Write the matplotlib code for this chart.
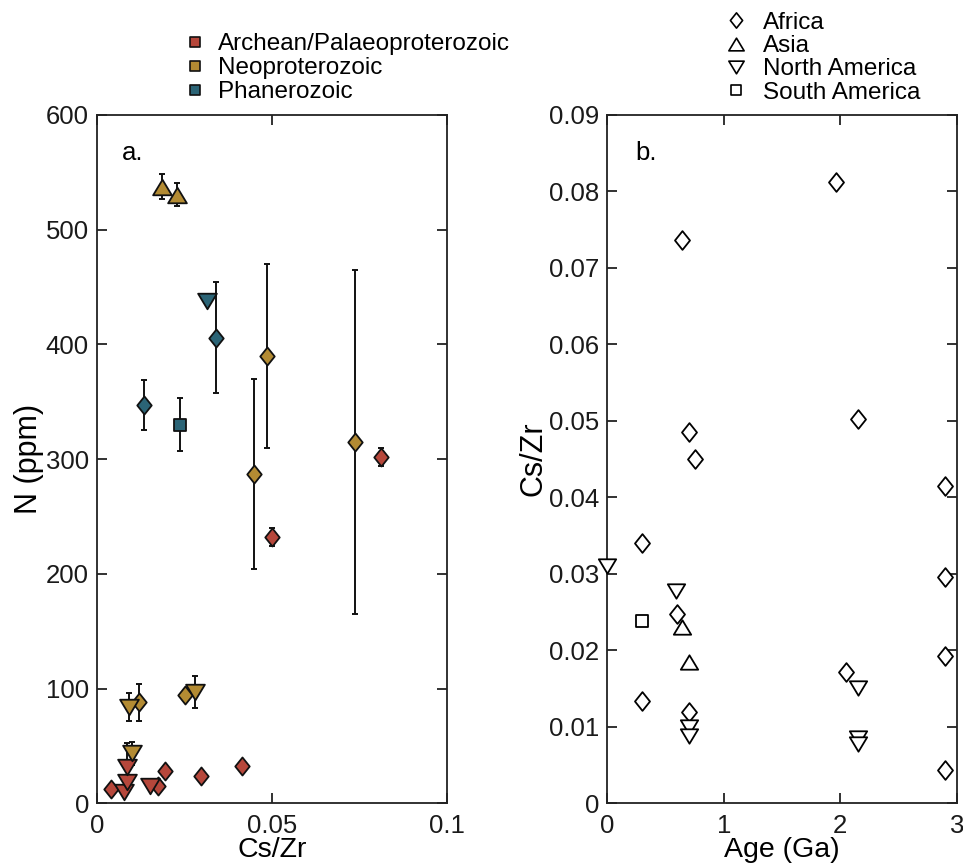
import numpy as np
import matplotlib
matplotlib.use('Agg')
import matplotlib.pyplot as plt
from matplotlib.path import Path
from matplotlib.lines import Line2D

plt.rcParams['font.family'] = ['Liberation Sans', 'DejaVu Sans']

# ---- panel a: N vs Cs/Zr, grouped by period ----
arch_cs = [0.0039, 0.0077, 0.0084, 0.0084, 0.0151, 0.0173, 0.0195, 0.0297, 0.0414, 0.0501, 0.0812]
arch_n = [12.5, 10, 18.8, 32, 15, 15, 28, 23.5, 32.5, 232, 302]
arch_err = [0, 0, 0, 21, 0, 0, 0, 0, 0, 8, 8]
arch_shape = ['dia', 'dn', 'dn', 'dn', 'dn', 'dia', 'dia', 'dia', 'dia', 'dia', 'dia']

neo_cs = [0.0186, 0.0229, 0.0487, 0.0449, 0.0738, 0.0091, 0.0120, 0.0250, 0.0280, 0.0099]
neo_n = [537.6, 530.3, 390, 287, 315, 84, 88, 94.7, 96.8, 43.6]
neo_err = [11, 10, 80, 83, 150, 12, 16, 0, 14, 10]
neo_shape = ['up', 'up', 'dia', 'dia', 'dia', 'dn', 'dia', 'dia', 'dn', 'dn']

phan_cs = [0.0313, 0.0341, 0.0133, 0.0237]
phan_n = [438, 406, 347, 330]
phan_err = [0, 48, 22, 23]
phan_shape = ['dn', 'dia', 'dia', 'sq']

periods = ['Archean/Palaeoproterozoic', 'Neoproterozoic', 'Phanerozoic']
period_colors = ['#B6473B', '#B38B33', '#2B6476']

# ---- panel b: Cs/Zr vs age, grouped by continent ----
africa_age = [0.30, 0.30, 0.60, 0.64, 0.70, 0.70, 0.75, 1.96, 2.05, 2.15, 2.90, 2.90, 2.90, 2.90]
africa_cs = [0.0341, 0.0134, 0.0247, 0.0737, 0.0486, 0.0120, 0.0450, 0.0812, 0.0172, 0.0502,
             0.0415, 0.0296, 0.0193, 0.0044]
asia_age = [0.644, 0.704]
asia_cs = [0.0231, 0.0185]
nam_age = [0.0, 0.59, 0.704, 0.704, 2.15, 2.15, 2.15]
nam_cs = [0.031, 0.0278, 0.0100, 0.0088, 0.0151, 0.0085, 0.0077]
sam_age = [0.30]
sam_cs = [0.0238]
continents = ['Africa', 'Asia', 'North America', 'South America']

# marker shapes (MATLAB-like proportions)
markers = {
    'dia': Path([(0, 1), (0.8, 0), (0, -1), (-0.8, 0), (0, 1)], closed=True),
    'up': Path([(0, 0.83), (1, -0.83), (-1, -0.83), (0, 0.83)], closed=True),
    'dn': Path([(0, -0.83), (1, 0.83), (-1, 0.83), (0, -0.83)], closed=True),
    'sq': Path([(-1, -1), (1, -1), (1, 1), (-1, 1), (-1, -1)], closed=True),
}
size_a = {'dia': 13, 'up': 13.5, 'dn': 13.5, 'sq': 8.5}
size_b = {'dia': 13.5, 'up': 12.5, 'dn': 12.5, 'sq': 8}

W, H = 963, 868
fig = plt.figure(figsize=(W / 100, H / 100), dpi=100)
ax1 = fig.add_axes([97.3 / W, 64.7 / H, 349.4 / W, 688.3 / H])
ax2 = fig.add_axes([607.3 / W, 64.7 / H, 349.4 / W, 688.3 / H])


def style_axis(ax):
    for sp in ax.spines.values():
        sp.set_linewidth(1.3)
        sp.set_color('#222222')
    ax.tick_params(direction='in', length=7, width=1.3, top=True, right=True,
                   labelsize=18.5, colors='#222222', labelcolor='#1a1a1a')
    ax.tick_params(axis='x', pad=8)
    ax.tick_params(axis='y', pad=6)


fmt = matplotlib.ticker.FuncFormatter(lambda v, p: '0' if v == 0 else '%g' % v)

# panel a
groups = [(arch_cs, arch_n, arch_err, arch_shape),
          (neo_cs, neo_n, neo_err, neo_shape),
          (phan_cs, phan_n, phan_err, phan_shape)]
for (cs, n, err, shape), col in zip(groups, period_colors):
    cs, n, err, shape = np.array(cs), np.array(n), np.array(err), np.array(shape)
    has = err > 0
    ax1.errorbar(cs[has], n[has], yerr=err[has], fmt='none', ecolor='#111111',
                 elinewidth=1.4, capsize=2.5, capthick=1.4, zorder=2)
    for s in ['dia', 'up', 'dn', 'sq']:
        m = shape == s
        if m.any():
            ax1.plot(cs[m], n[m], linestyle='none', marker=markers[s], ms=size_a[s],
                     mfc=col, mec='#111111', mew=1.3, zorder=3, clip_on=False)

ax1.set_xlim(0, 0.1)
ax1.set_ylim(0, 600)
ax1.set_xticks([0, 0.05, 0.1])
ax1.set_yticks(np.arange(0, 601, 100))
ax1.xaxis.set_major_formatter(fmt)
style_axis(ax1)
ax1.set_xlabel('Cs/Zr', fontsize=20.5, labelpad=-1)
ax1.set_ylabel('N (ppm)', fontsize=22, labelpad=1)
ax1.text(0.07, 0.962, 'a.', transform=ax1.transAxes, fontsize=18.5, va='top')

# panel b
bdata = [(africa_age, africa_cs, 'dia'), (asia_age, asia_cs, 'up'),
         (nam_age, nam_cs, 'dn'), (sam_age, sam_cs, 'sq')]
for age, cs, s in bdata:
    ax2.plot(age, cs, linestyle='none', marker=markers[s], ms=size_b[s],
             mfc='white', mec='black', mew=1.3, zorder=3, clip_on=False)

ax2.set_xlim(0, 3)
ax2.set_ylim(0, 0.09)
ax2.set_xticks([0, 1, 2, 3])
ax2.set_yticks(np.arange(0, 0.0901, 0.01))
ax2.yaxis.set_major_formatter(fmt)
style_axis(ax2)
ax2.set_xlabel('Age (Ga)', fontsize=20.5, labelpad=-1)
ax2.set_ylabel('Cs/Zr', fontsize=22, labelpad=0)
ax2.text(0.08, 0.962, 'b.', transform=ax2.transAxes, fontsize=18.5, va='top')

# legends
h_a = [Line2D([], [], linestyle='none', marker=markers['sq'], ms=7.5, mfc=c, mec='#111111', mew=1.2)
       for c in period_colors]
fig.legend(h_a, periods, loc='upper left', bbox_to_anchor=(182.8 / W, 1 - 33.4 / H),
           frameon=False, fontsize=17.5, handlelength=1, handletextpad=0.45,
           labelspacing=0.08, borderpad=0, borderaxespad=0)

b_sizes = {'dia': 11, 'up': 11, 'dn': 11, 'sq': 7.5}
h_b = [Line2D([], [], linestyle='none', marker=markers[s], ms=b_sizes[s], mfc='white', mec='black', mew=1.2)
       for s in ['dia', 'up', 'dn', 'sq']]
fig.legend(h_b, continents, loc='upper left', bbox_to_anchor=(723.8 / W, 1 - 11.8 / H),
           frameon=False, fontsize=17.5, handlelength=1, handletextpad=0.61,
           labelspacing=0.05, borderpad=0, borderaxespad=0)

fig.savefig('out.png', dpi=100, facecolor='white')
